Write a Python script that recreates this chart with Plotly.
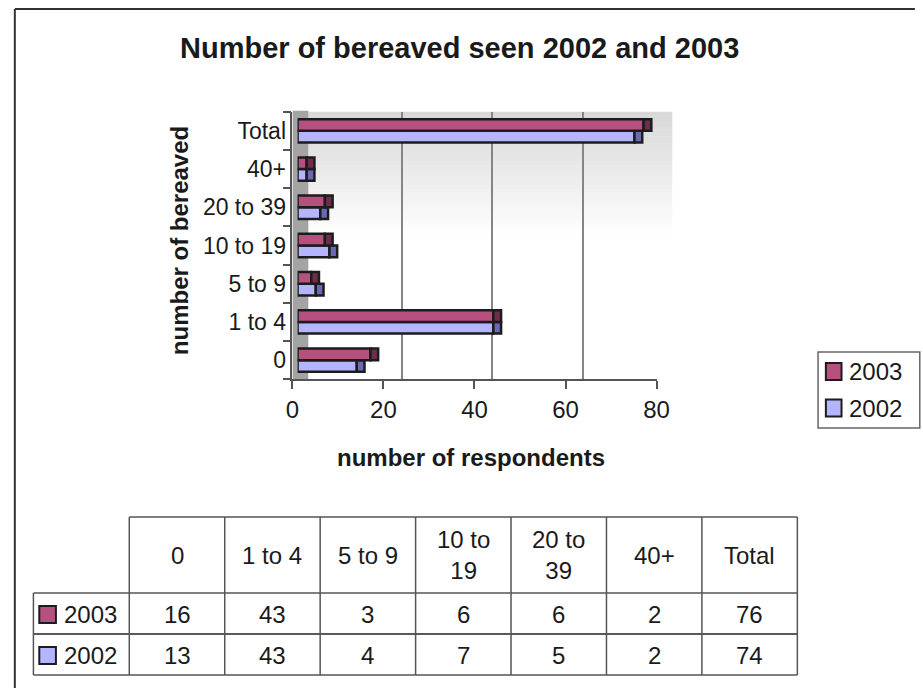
import plotly.graph_objects as go

# ---- data ----------------------------------------------------------------
categories = ["0", "1 to 4", "5 to 9", "10 to 19", "20 to 39", "40+", "Total"]
header_labels = ["0", "1 to 4", "5 to 9", "10 to<br>19", "20 to<br>39", "40+", "Total"]
values_2003 = [16, 43, 3, 6, 6, 2, 76]
values_2002 = [13, 43, 4, 7, 5, 2, 74]
x_ticks = [0, 20, 40, 60, 80]
grid_ticks = [20, 40, 60]

# ---- styling --------------------------------------------------------------
W, H = 923, 688
FONT = "Liberation Sans, Arial, Helvetica, sans-serif"
INK = "#1a1a1a"
C2003, C2003_SIDE = "#b8507f", "#6e2d4b"
C2002, C2002_SIDE = "#b4b4ff", "#6a6ab4"
DEPTH = 1.7  # width of the shaded end face of each bar, in axis units
AX_COL = "#555555"

# plot geometry in pixels
Y_TOP, Y_BOT = 111.7, 379.3
AX_L, AX_R = 291.7, 664.0          # axis with tick labels
BAR_L = 297.0                      # front face of bars
WALL_L, WALL_R = 310.6, 681.4      # back wall carrying the grid


def px(x):
    return x / W


def py(y):
    return 1 - y / H


ydom = [py(Y_BOT), py(Y_TOP)]
span = AX_R - AX_L

fig = go.Figure()

# back-wall grid subplot (xy)
fig.add_scatter(x=[None], y=[None], xaxis="x", yaxis="y", showlegend=False,
                hoverinfo="skip")
# axis subplot (x2y2): tick labels, axis lines
fig.add_scatter(x=[None] * len(categories), y=categories, mode="markers",
                marker=dict(opacity=0), xaxis="x2", yaxis="y2",
                showlegend=False, hoverinfo="skip")

# bars (x3y3): front face plus darker end face
bar_line = dict(color="#1c1c1c", width=2.5)
for name, vals, front, side, grp in [
    ("2002", values_2002, C2002, C2002_SIDE, "a"),
    ("2003", values_2003, C2003, C2003_SIDE, "b"),
]:
    fig.add_bar(x=vals, y=categories, orientation="h", name=name,
                marker=dict(color=front, line=bar_line), offsetgroup=grp,
                xaxis="x3", yaxis="y3", showlegend=False, hoverinfo="skip")
    fig.add_bar(x=[DEPTH] * len(vals), base=vals, y=categories,
                orientation="h", marker=dict(color=side, line=bar_line),
                offsetgroup=grp, xaxis="x3", yaxis="y3", showlegend=False,
                hoverinfo="skip")

cat_axis = dict(type="category", categoryorder="array",
                categoryarray=categories, range=[-0.5, len(categories) - 0.5],
                domain=ydom, fixedrange=True)

fig.update_layout(
    width=W, height=H, margin=dict(l=0, r=0, t=0, b=0),
    paper_bgcolor="white", plot_bgcolor="rgba(0,0,0,0)",
    barmode="group", bargap=0.39, bargroupgap=0, showlegend=False,
    hovermode=False,
    xaxis=dict(domain=[px(WALL_L), px(WALL_R)], range=[0, 80],
               tickvals=grid_ticks, showticklabels=False, ticks="",
               showgrid=True, gridcolor="#858585", gridwidth=1.5,
               zeroline=False, showline=False, anchor="y", fixedrange=True),
    yaxis=dict(domain=ydom, range=[0, 1], visible=False, anchor="x",
               fixedrange=True),
    xaxis2=dict(domain=[px(AX_L), px(AX_R)], range=[0, 80], tickvals=x_ticks,
                showgrid=False, zeroline=False, showline=True,
                linecolor=AX_COL, linewidth=1.5, ticks="outside", ticklen=8,
                tickcolor=AX_COL, tickwidth=1.5,
                tickfont=dict(family=FONT, size=24, color=INK), anchor="y2",
                fixedrange=True),
    yaxis2=dict(**cat_axis, anchor="x2", showline=True, linecolor=AX_COL,
                linewidth=1.5, ticks="outside", tickson="boundaries",
                ticklen=8, tickcolor=AX_COL, tickwidth=1.5, showgrid=False,
                tickfont=dict(family=FONT, size=23, color=INK)),
    xaxis3=dict(domain=[px(BAR_L), px(BAR_L + span)], range=[0, 80],
                visible=False, anchor="y3", fixedrange=True),
    yaxis3=dict(**cat_axis, anchor="x3", visible=False),
)

shapes = []

# shaded back wall: grey at the top fading to white
n_bands = 36
g_top, g_bot = 216, 255
band_top, band_bot = Y_TOP, 238.0
step = (band_bot - band_top) / n_bands
for i in range(n_bands):
    g = round(g_top + (g_bot - g_top) * i / (n_bands - 1))
    shapes.append(dict(type="rect", xref="paper", yref="paper", layer="below",
                       x0=px(308), x1=px(680),
                       y0=py(band_top + i * step), y1=py(band_top + (i + 1) * step + 0.6),
                       line=dict(width=0), fillcolor=f"rgb({g},{g},{g})"))

# side wall
shapes.append(dict(type="rect", xref="paper", yref="paper", layer="below",
                   x0=px(292), x1=px(308), y0=py(Y_BOT), y1=py(Y_TOP - 1),
                   line=dict(width=0), fillcolor="#a4a4a4"))

# outer frame
FRAME = dict(color="#333333", width=2)
shapes.append(dict(type="line", xref="paper", yref="paper", x0=px(8), x1=px(8),
                   y0=py(9), y1=py(H + 5), line=FRAME))
shapes.append(dict(type="line", xref="paper", yref="paper", x0=px(8), x1=px(W + 5),
                   y0=py(9), y1=py(9), line=FRAME))

annotations = []


def text(x, y, s, size=24, bold=False, xanchor="center", angle=0):
    annotations.append(dict(
        xref="paper", yref="paper", x=px(x), y=py(y), text=f"<b>{s}</b>" if bold else s,
        showarrow=False, xanchor=xanchor, yanchor="middle", textangle=angle,
        font=dict(family=FONT, size=size, color=INK)))


text(463, 48.5, "Number of bereaved seen 2002 and 2003", size=29, bold=True)
text(474, 457, "number of respondents", size=24, bold=True)
text(176, 241, "number of bereaved", size=24, bold=True, angle=-90)

# legend box with keys
LEG = dict(color="#666666", width=1.5)
shapes.append(dict(type="rect", xref="paper", yref="paper", x0=px(829), x1=px(W + 10),
                   y0=py(428), y1=py(352), line=LEG, fillcolor="rgba(0,0,0,0)"))
legend_rows = [("2003", C2003, 371.5), ("2002", C2002, 408)]
for name, col, yc in legend_rows:
    shapes.append(dict(type="rect", xref="paper", yref="paper", x0=px(837), x1=px(853),
                       y0=py(yc + 8.5), y1=py(yc - 8.5), fillcolor=col,
                       line=dict(color="#1c1c1c", width=2)))
    text(859, yc, name, xanchor="left")

# data table
COL_W = 97.55
col_edges = [125 + i * COL_W for i in range(len(categories) + 1)]
T_TOP, T_HEAD, T_MID, T_BOT = 517, 593, 634, 675
T_LEFT = 27
TL = dict(color="#555555", width=1.5)
TL_DARK = dict(color="#222222", width=1.5)


def hline(y, x0, x1, line):
    shapes.append(dict(type="line", xref="paper", yref="paper", x0=px(x0), x1=px(x1),
                       y0=py(y), y1=py(y), line=line))


def vline(x, y0, y1, line):
    shapes.append(dict(type="line", xref="paper", yref="paper", x0=px(x), x1=px(x),
                       y0=py(y0), y1=py(y1), line=line))


hline(T_TOP, col_edges[0], col_edges[-1], TL)
hline(T_HEAD, T_LEFT, col_edges[-1], TL)
hline(T_MID, T_LEFT, col_edges[-1], TL_DARK)
hline(T_BOT, T_LEFT, col_edges[-1], TL)
vline(T_LEFT, T_HEAD, T_BOT, TL)
for xe in col_edges:
    vline(xe, T_TOP, T_BOT, TL)

for i, lab in enumerate(header_labels):
    xc = (col_edges[i] + col_edges[i + 1]) / 2
    text(xc, (T_TOP + T_HEAD) / 2, lab)
    text(xc, (T_HEAD + T_MID) / 2 + 1, str(values_2003[i]))
    text(xc, (T_MID + T_BOT) / 2 + 1, str(values_2002[i]))

table_keys = [("2003", C2003, (T_HEAD + T_MID) / 2 + 1), ("2002", C2002, (T_MID + T_BOT) / 2 + 1)]
for name, col, yc in table_keys:
    shapes.append(dict(type="rect", xref="paper", yref="paper", x0=px(33), x1=px(50),
                       y0=py(yc + 8.5), y1=py(yc - 8.5), fillcolor=col,
                       line=dict(color="#1c1c1c", width=2)))
    text(56, yc, name, xanchor="left")

fig.update_layout(shapes=shapes, annotations=annotations)

fig.write_html("out.html")
